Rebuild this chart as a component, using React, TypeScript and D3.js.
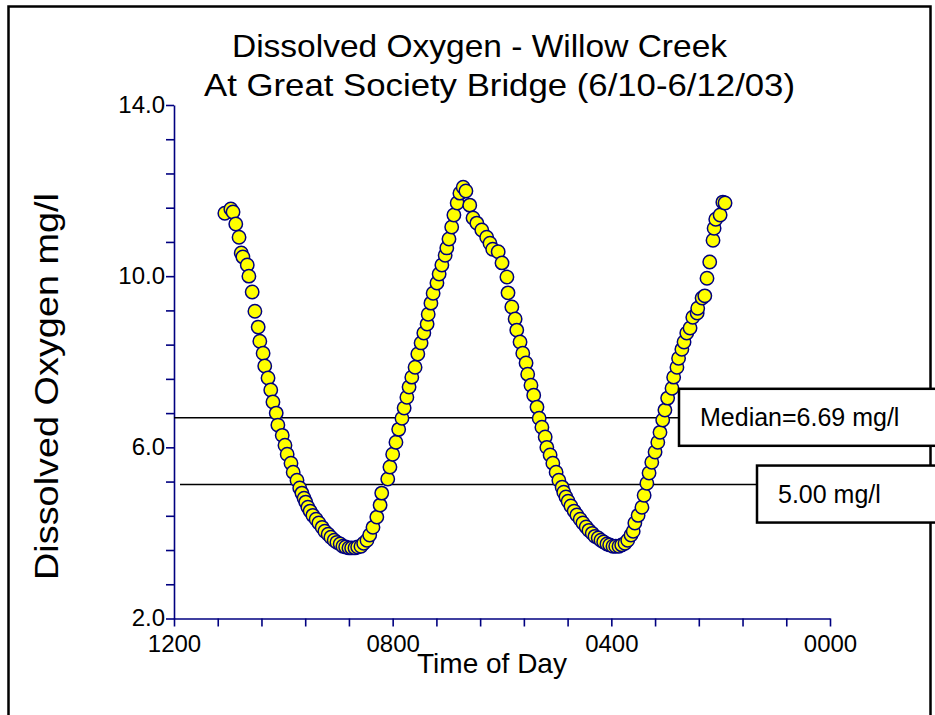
import React, { useEffect, useRef } from 'react';
import * as d3 from 'd3';

// time of day in hours (axis runs 12 -> 0)
const timeOfDay = [
  11.07, 10.96, 10.92, 10.87, 10.81, 10.77, 10.74, 10.66, 10.63, 10.57, 10.52, 10.46, 10.43, 10.37, 10.34, 10.28,
  10.23, 10.19, 10.13, 10.10, 10.02, 9.97, 9.93, 9.86, 9.82, 9.75,
  9.70, 9.66, 9.62, 9.59, 9.55, 9.51, 9.46, 9.40, 9.35, 9.29, 9.24, 9.18, 9.13, 9.07, 9.02, 8.96, 8.91, 8.86,
  8.80, 8.75, 8.69, 8.64, 8.58, 8.53, 8.47,
  8.42, 8.36, 8.29, 8.23, 8.20, 8.09, 8.05, 8.00, 7.94, 7.89, 7.83, 7.79, 7.74, 7.70, 7.65, 7.59, 7.54, 7.48,
  7.43, 7.37, 7.35, 7.30, 7.26, 7.19, 7.15, 7.10, 7.04, 7.01, 6.97, 6.92, 6.88, 6.82, 6.77, 6.71, 6.66,
  6.59, 6.53, 6.46, 6.37, 6.28, 6.22, 6.17, 6.07, 6.00, 5.91, 5.89, 5.82, 5.76, 5.73, 5.67, 5.62, 5.56, 5.53,
  5.47, 5.42, 5.36, 5.32, 5.27, 5.21, 5.18, 5.12, 5.07, 5.01, 4.96,
  4.90, 4.87, 4.83, 4.79, 4.74, 4.68, 4.63, 4.57, 4.52, 4.46, 4.41, 4.35, 4.30, 4.24, 4.19, 4.14, 4.08, 4.03,
  3.97, 3.92, 3.86, 3.81, 3.75, 3.70, 3.64,
  3.60, 3.57, 3.51, 3.44, 3.40, 3.35, 3.31, 3.26, 3.20, 3.15, 3.11, 3.06, 3.02, 2.97, 2.89, 2.86, 2.80, 2.77,
  2.71, 2.67, 2.62, 2.56, 2.51, 2.43, 2.42, 2.34, 2.29, 2.25, 2.20, 2.14, 2.12, 2.09, 2.01, 1.96, 1.92,
];

// dissolved oxygen, mg/l
const dissolvedOxygen = [
  11.47, 11.57, 11.50, 11.22, 10.91, 10.54, 10.45, 10.26, 10.00, 9.63, 9.18, 8.81, 8.48, 8.20, 7.90, 7.62,
  7.34, 7.06, 6.80, 6.52, 6.28, 6.05, 5.84, 5.63, 5.42, 5.23,
  5.05, 4.93, 4.81, 4.72, 4.60, 4.51, 4.41, 4.32, 4.23, 4.13, 4.04, 3.97, 3.90, 3.83, 3.78, 3.74, 3.69, 3.67,
  3.65, 3.65, 3.65, 3.67, 3.69, 3.76, 3.83,
  3.95, 4.13, 4.37, 4.65, 4.93, 5.26, 5.54, 5.84, 6.12, 6.42, 6.68, 6.92, 7.17, 7.41, 7.64, 7.87, 8.18, 8.44,
  8.67, 8.88, 9.11, 9.37, 9.60, 9.84, 10.05, 10.26, 10.49, 10.66, 10.87, 11.15, 11.43, 11.71, 11.94, 12.08, 11.99,
  11.66, 11.36, 11.24, 11.08, 10.91, 10.77, 10.63, 10.57, 10.31, 9.98, 9.61, 9.28, 9.00, 8.74, 8.46, 8.20, 7.97, 7.71,
  7.45, 7.22, 6.94, 6.68, 6.47, 6.24, 6.00, 5.82, 5.63, 5.42, 5.23,
  5.07, 4.95, 4.84, 4.74, 4.63, 4.51, 4.42, 4.32, 4.23, 4.14, 4.06, 3.99, 3.92, 3.88, 3.83, 3.79, 3.74, 3.72,
  3.69, 3.69, 3.69, 3.72, 3.76, 3.83, 3.95,
  4.04, 4.23, 4.41, 4.60, 4.88, 5.16, 5.40, 5.65, 5.89, 6.12, 6.35, 6.64, 6.87, 7.15, 7.38, 7.64, 7.87, 8.08,
  8.29, 8.46, 8.67, 8.79, 9.04, 9.14, 9.25, 9.49, 9.54, 9.95, 10.33, 10.84, 11.12, 11.33, 11.43, 11.73, 11.71,
];

const xTickValues = [12, 8, 4, 0];
const xTickLabels = ['1200', '0800', '0400', '0000'];
const yTickValues = [2, 6, 10, 14];
const yTickLabels = ['2.0', '6.0', '10.0', '14.0'];

// reference lines: drawn value and label
const refLineValues = [6.69, 5.13];
const refLineLabels = ['Median=6.69 mg/l', '5.00 mg/l'];

const titleLines = ['Dissolved Oxygen - Willow Creek', 'At Great Society Bridge (6/10-6/12/03)'];

const FONT = '"Liberation Sans", Arial, sans-serif';
const NAVY = '#000080';

const App: React.FC = () => {
  const svgRef = useRef<SVGSVGElement | null>(null);

  useEffect(() => {
    if (!svgRef.current) return;
    const svg = d3.select(svgRef.current);
    svg.selectAll('*').remove();

    const x = d3.scaleLinear().domain([12, 0]).range([174, 830]);
    const y = d3.scaleLinear().domain([2, 14]).range([618.5, 105]);

    svg.append('rect').attr('width', 935).attr('height', 715).attr('fill', 'white');

    // outer frame
    svg.append('rect')
      .attr('x', 8.5).attr('y', 6.5)
      .attr('width', 922).attr('height', 760)
      .attr('fill', 'none').attr('stroke', 'black').attr('stroke-width', 2.5);

    // titles
    const titleX = [479.5, 499.5];
    const titleLen = [495, 591];
    svg.append('g')
      .selectAll('text')
      .data(titleLines)
      .enter().append('text')
      .attr('x', (d, i) => titleX[i])
      .attr('y', (d, i) => 57 + i * 39)
      .attr('text-anchor', 'middle')
      .attr('font-family', FONT)
      .attr('font-size', 32)
      .attr('textLength', (d, i) => titleLen[i])
      .attr('lengthAdjust', 'spacingAndGlyphs')
      .text(d => d);

    // minor tick steps (every 0.8)
    const xMinor = d3.range(16).map(k => 12 - k * 0.8);
    const yMinor = d3.range(16).map(k => 2 + k * 0.8).filter(v => v <= 14.001);

    const fmtX = (v: number) => {
      const i = xTickValues.findIndex(t => Math.abs(t - v) < 1e-6);
      return i >= 0 ? xTickLabels[i] : '';
    };
    const fmtY = (v: number) => {
      const i = yTickValues.findIndex(t => Math.abs(t - v) < 1e-6);
      return i >= 0 ? yTickLabels[i] : '';
    };

    const xAxis = svg.append('g')
      .attr('transform', `translate(0,${y(2)})`)
      .call(d3.axisBottom(x).tickValues(xMinor).tickSize(8).tickSizeOuter(0).tickFormat(d => fmtX(+d)));

    const yAxis = svg.append('g')
      .attr('transform', `translate(${x(12)},0)`)
      .call(d3.axisLeft(y).tickValues(yMinor).tickSize(8).tickSizeOuter(0).tickFormat(d => fmtY(+d)));

    [xAxis, yAxis].forEach(ax => {
      ax.attr('font-size', 24).attr('font-family', FONT);
      ax.select('.domain').attr('stroke', NAVY).attr('stroke-width', 1.6);
      ax.selectAll('.tick line').attr('stroke', NAVY).attr('stroke-width', 1.6);
      ax.selectAll('.tick text').attr('fill', 'black');
    });
    xAxis.selectAll('.tick text').attr('y', 11).attr('dy', '0.95em');
    yAxis.selectAll('.tick text').attr('x', -9).attr('dy', '0.3em');

    // axis titles
    svg.append('text')
      .attr('x', 492).attr('y', 673)
      .attr('text-anchor', 'middle')
      .attr('font-family', FONT).attr('font-size', 28)
      .text('Time of Day');

    svg.append('text')
      .attr('transform', `translate(58,386.5) rotate(-90)`)
      .attr('text-anchor', 'middle')
      .attr('font-family', FONT).attr('font-size', 33)
      .attr('textLength', 387)
      .attr('lengthAdjust', 'spacingAndGlyphs')
      .text('Dissolved Oxygen mg/l');

    // reference lines
    const lineStart = [x(12), 180];
    const boxX = [679, 757];
    const boxTop = [-29, -19];
    svg.append('g')
      .selectAll('line')
      .data(refLineValues)
      .enter().append('line')
      .attr('x1', (d, i) => lineStart[i])
      .attr('x2', (d, i) => boxX[i])
      .attr('y1', d => y(d))
      .attr('y2', d => y(d))
      .attr('stroke', 'black')
      .attr('stroke-width', 1.5);

    // points
    const points = timeOfDay.map((t, i) => ({ t, v: dissolvedOxygen[i] }));
    svg.append('g')
      .selectAll('circle')
      .data(points)
      .enter().append('circle')
      .attr('cx', d => x(d.t))
      .attr('cy', d => y(d.v))
      .attr('r', 6.7)
      .attr('fill', '#FFFF00')
      .attr('stroke', NAVY)
      .attr('stroke-width', 1.5);

    // label boxes
    const boxes = svg.append('g')
      .selectAll('g')
      .data(refLineLabels)
      .enter().append('g');

    boxes.append('rect')
      .attr('x', (d, i) => boxX[i])
      .attr('y', (d, i) => y(refLineValues[i]) + boxTop[i])
      .attr('width', 300)
      .attr('height', 57)
      .attr('fill', 'white')
      .attr('stroke', 'black')
      .attr('stroke-width', 2.5);

    boxes.append('text')
      .attr('x', (d, i) => boxX[i] + 21)
      .attr('y', (d, i) => y(refLineValues[i]) + boxTop[i] + 37)
      .attr('font-family', FONT)
      .attr('font-size', 25)
      .text(d => d);
  }, []);

  return (
    <svg
      ref={svgRef}
      width={935}
      height={715}
      style={{ position: 'absolute', left: 0, top: 0, display: 'block' }}
    />
  );
};

export default App;
